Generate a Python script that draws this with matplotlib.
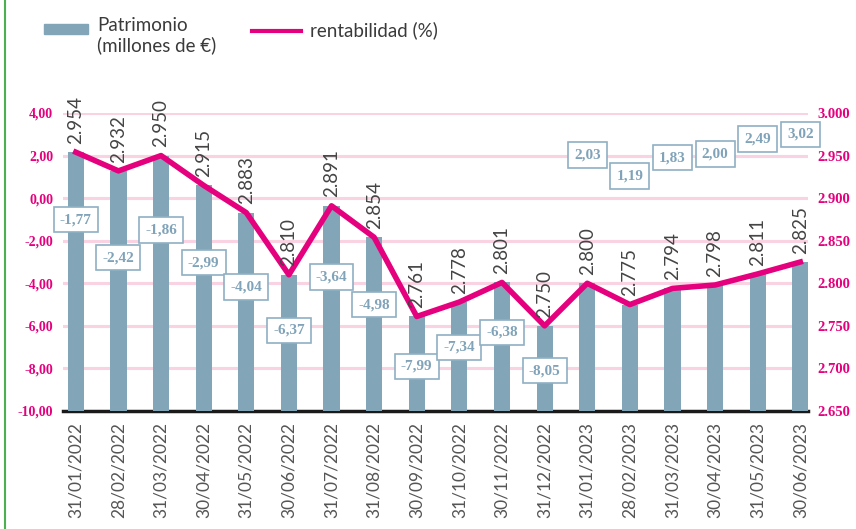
import matplotlib
matplotlib.use("Agg")
import matplotlib.pyplot as plt
from matplotlib.patches import Rectangle
from matplotlib.lines import Line2D

# data
dates = ["31/01/2022", "28/02/2022", "31/03/2022", "30/04/2022", "31/05/2022",
         "30/06/2022", "31/07/2022", "31/08/2022", "30/09/2022", "31/10/2022",
         "30/11/2022", "31/12/2022", "31/01/2023", "28/02/2023", "31/03/2023",
         "30/04/2023", "31/05/2023", "30/06/2023"]
patrimonio = [2954, 2932, 2950, 2915, 2883, 2810, 2891, 2854, 2761, 2778,
              2801, 2750, 2800, 2775, 2794, 2798, 2811, 2825]
rentabilidad = [-1.77, -2.42, -1.86, -2.99, -4.04, -6.37, -3.64, -4.98, -7.99,
                -7.34, -6.38, -8.05, 2.03, 1.19, 1.83, 2.00, 2.49, 3.02]
left_ticks = [-10, -8, -6, -4, -2, 0, 2, 4]
right_ticks = [2650, 2700, 2750, 2800, 2850, 2900, 2950, 3000]

# label box nudges (left-axis units) so boxes don't collide, as in the original
box_shift = [0.75, -0.38, 0.36, -0.05, -0.13, 0.17, -0.06, -0.02, 0.09,
             0.34, 0.08, -0.05, 0.0, -0.15, 0.07, 0.07, 0.29, -0.02]

BAR = "#83a5b8"
PINK = "#e5007e"
GRID = "#f9d3e2"
BOXTXT = "#80a3b9"
TXT = "#3a3a3a"

def comma(v):
    return f"{v:.2f}".replace(".", ",")

def thousands(v):
    return f"{v / 1000:.3f}"

fig = plt.figure(figsize=(8.56, 5.29), dpi=100)
ax = fig.add_axes([63 / 856, 1 - 411 / 529, 745 / 856, 298 / 529])
ax2 = ax.twinx()

x = list(range(len(dates)))

# left axis: grid + ticks
ax.set_ylim(-10, 4)
ax.set_xlim(-0.3, 17.18)
for t in left_ticks[1:]:
    ax.axhline(t, color=GRID, lw=2.2, zorder=0)
ax.set_yticks(left_ticks)
ax.set_yticklabels([comma(t) for t in left_ticks],
                   fontdict=dict(family="Liberation Serif", weight="bold", size=10, color=PINK))
ax.tick_params(axis="y", length=0, pad=7)
ax.set_xticks(x)
ax.set_xticklabels(dates, rotation=90, family="Lato", size=12.5, color="#555555")
ax.tick_params(axis="x", length=0, pad=8)
for s in ["top", "right", "left"]:
    ax.spines[s].set_visible(False)
ax.spines["bottom"].set_color("#1a1a1a")
ax.spines["bottom"].set_linewidth(2.5)
ax.spines["bottom"].set_zorder(5)

# right axis: bars and line of patrimonio
ax2.set_ylim(2650, 3000)
ax2.bar(x, [p - 2650 for p in patrimonio], bottom=2650, width=0.38, color=BAR, zorder=2)
ax2.plot(x, patrimonio, color=PINK, lw=4, zorder=4)
ax2.set_yticks(right_ticks)
ax2.set_yticklabels([thousands(t) for t in right_ticks],
                    fontdict=dict(family="Liberation Serif", weight="bold", size=10.5, color=PINK))
ax2.tick_params(axis="y", length=0, pad=7)
for s in ["top", "right", "left", "bottom"]:
    ax2.spines[s].set_visible(False)
ax2.set_xlim(ax.get_xlim())

for xi, p in zip(x, patrimonio):
    ax2.annotate(thousands(p), (xi, p), xytext=(0, 6), textcoords="offset points",
                 rotation=90, ha="center", va="bottom", family="Lato",
                 size=13.5, color="#444444", annotation_clip=False, zorder=6)

for xi, r, sh in zip(x, rentabilidad, box_shift):
    ax2.text(xi, r + sh, comma(r), transform=ax.transData, ha="center", va="center",
             family="Liberation Serif", weight="bold", size=11, color=BOXTXT, zorder=3,
             bbox=dict(boxstyle="square,pad=0.4", fc="white", ec="#8fb0c3", lw=1.2))

# legend drawn by hand
fig.add_artist(Rectangle((44 / 856, 1 - 34 / 529), 44 / 856, 10 / 529,
                         transform=fig.transFigure, color=BAR))
fig.text(97 / 856, 1 - 17 / 529, "Patrimonio\n(millones de €)", family="Lato", size=13.5,
         color=TXT, va="top", ha="left", linespacing=1.15)
fig.add_artist(Line2D([252 / 856, 301 / 856], [1 - 31 / 529, 1 - 31 / 529],
                      transform=fig.transFigure, color=PINK, lw=3))
fig.text(310 / 856, 1 - 30 / 529, "rentabilidad (%)", family="Lato", size=13.5,
         color=TXT, va="center", ha="left")

# green frame line on the left
fig.add_artist(Line2D([5 / 856, 5 / 856], [0, 1], transform=fig.transFigure,
                      color="#4caf50", lw=1.5))

fig.savefig("out.png", dpi=100)
